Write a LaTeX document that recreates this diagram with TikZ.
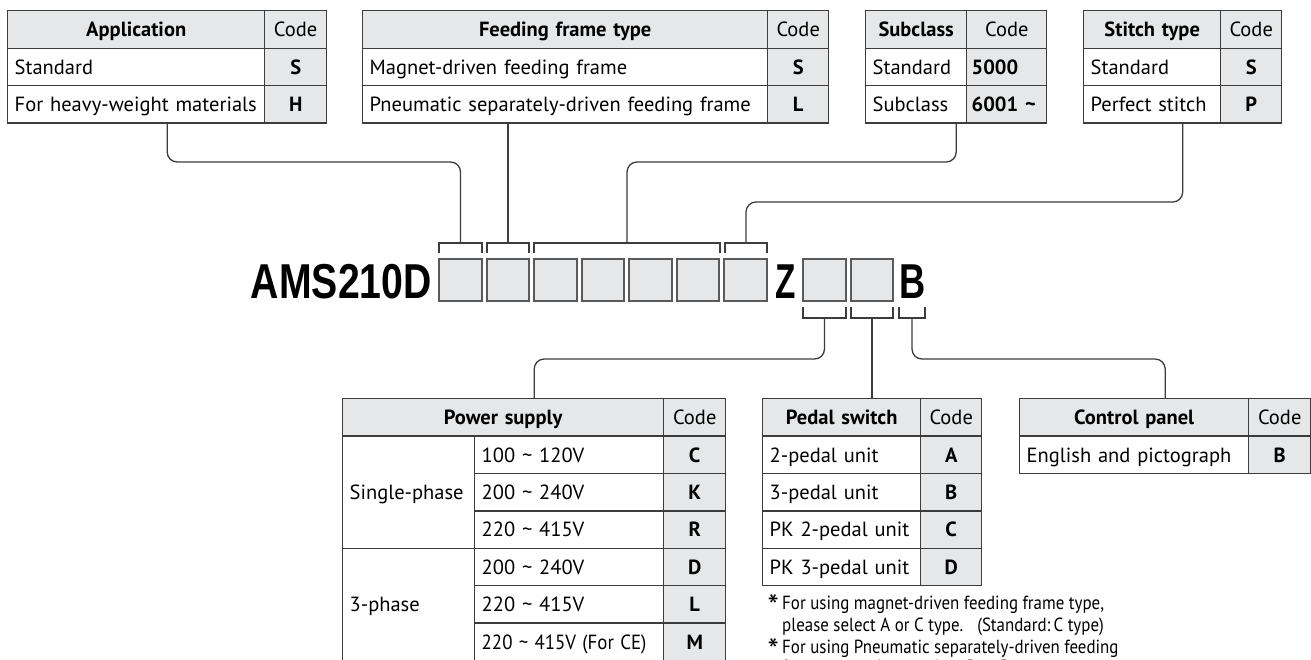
\documentclass[tikz,border=0pt]{standalone}
\usepackage{graphicx}
\usepackage{fontspec}
\setmainfont{PT Sans}
\newfontfamily\titlefont{Liberation Sans}
\newfontfamily\fnfont{PT Sans}[FakeStretch=0.89]
\usetikzlibrary{fit}
\definecolor{bd}{HTML}{3C3C3C}
\definecolor{gf}{HTML}{E6E7E8}
\definecolor{bx}{HTML}{5A5A5A}
\newcommand\tld{\textasciitilde}
\newcommand\tfont{\fontsize{20.5}{24}\selectfont}
\tikzset{
  cellbase/.style={draw=bd, line width=1.4pt, inner ysep=0pt, anchor=north west,
    text height=16pt, text depth=1.6pt, font=\tfont},
  tl/.style={align=left},
  hd/.style={fill=gf, align=center, font=\tfont\bfseries},
  ch/.style={fill=gf, align=center},
  cd/.style={fill=gf, align=center, font=\tfont\bfseries},
  cdl/.style={fill=gf, align=left, font=\tfont\bfseries},
  codebox/.style={draw=bx, fill=gf, line width=1.6pt, minimum width=42.5pt, minimum height=42pt, inner sep=0pt},
  brk/.style={draw=bd, line width=1.4pt},
  conn/.style={draw=bd, line width=1.3pt, rounded corners=10pt},
  ttl/.style={inner sep=0pt, text=black, font=\titlefont\bfseries\fontsize{49}{49}\selectfont},
  fn/.style={inner sep=0pt, anchor=base west, text height=14pt, text depth=4pt, font=\fnfont\fontsize{19}{22}\selectfont},
  star/.style={inner sep=0pt, anchor=base east, text height=20pt, text depth=0pt, font=\fontsize{32}{32}\selectfont}
}
% name, x, y, w, h, style, text
\newcommand\mkcell[7]{%
  \pgfmathsetmacro\cw{#4-14}%
  \node[cellbase,#6, minimum width=#4pt, minimum height=#5pt, text width=\cw pt, inner xsep=7pt] (#1) at (#2,#3) {#7};}
\begin{document}
\begin{tikzpicture}[x=1pt,y=-1pt]
\useasboundingbox (0,0) rectangle (1311,659);
\fill[white] (0,0) rectangle (1311,659);
\clip (0,0) rectangle (1311,659);

% ---------- Application ----------
\mkcell{a0}{7}{10}{257}{37.5}{hd}{Application}
\mkcell{a1}{264}{10}{62}{37.5}{ch}{Code}
\mkcell{a2}{7}{47.5}{257}{37.3}{tl}{Standard}
\mkcell{a3}{264}{47.5}{62}{37.3}{cd}{S}
\mkcell{a4}{7}{84.8}{257}{37.3}{tl}{For heavy-weight materials}
\mkcell{a5}{264}{84.8}{62}{37.3}{cd}{H}
\node[fit=(a0)(a5), inner sep=0pt] (app) {};

% ---------- Feeding frame ----------
\mkcell{f0}{362}{10}{405}{37.5}{hd}{Feeding frame type}
\mkcell{f1}{767}{10}{61}{37.5}{ch}{Code}
\mkcell{f2}{362}{47.5}{405}{37.3}{tl}{Magnet-driven feeding frame}
\mkcell{f3}{767}{47.5}{61}{37.3}{cd}{S}
\mkcell{f4}{362}{84.8}{405}{37.3}{tl}{Pneumatic separately-driven feeding frame}
\mkcell{f5}{767}{84.8}{61}{37.3}{cd}{L}
\node[fit=(f0)(f5), inner sep=0pt] (feed) {};

% ---------- Subclass ----------
\mkcell{s0}{865}{10}{101}{37.5}{hd}{Subclass}
\mkcell{s1}{966}{10}{80}{37.5}{ch}{Code}
\mkcell{s2}{865}{47.5}{101}{37.3}{tl}{Standard}
\mkcell{s3}{966}{47.5}{80}{37.3}{cdl}{\hspace*{-2pt}5000}
\mkcell{s4}{865}{84.8}{101}{37.3}{tl}{Subclass}
\mkcell{s5}{966}{84.8}{80}{37.3}{cdl}{\hspace*{-2pt}6001 \tld}
\node[fit=(s0)(s5), inner sep=0pt] (sub) {};

% ---------- Stitch type ----------
\mkcell{t0}{1083}{10}{137}{37.5}{hd}{Stitch type}
\mkcell{t1}{1220}{10}{61}{37.5}{ch}{Code}
\mkcell{t2}{1083}{47.5}{137}{37.3}{tl}{Standard}
\mkcell{t3}{1220}{47.5}{61}{37.3}{cd}{S}
\mkcell{t4}{1083}{84.8}{137}{37.3}{tl}{Perfect stitch}
\mkcell{t5}{1220}{84.8}{61}{37.3}{cd}{P}
\node[fit=(t0)(t5), inner sep=0pt] (stitch) {};

% ---------- Model code ----------
\node[ttl, anchor=base east] (title) at (432,298) {\scalebox{0.8}[1]{AMS210D}};
\node[codebox] (k1) at (460.5,280) {};
\node[codebox] (k2) at (508,280) {};
\node[codebox] (k3) at (555.5,280) {};
\node[codebox] (k4) at (603,280) {};
\node[codebox] (k5) at (650.5,280) {};
\node[codebox] (k6) at (698,280) {};
\node[codebox] (k7) at (745.5,280) {};
\node[ttl, anchor=base] (zz) at (786,298) {\scalebox{0.68}[1]{Z}};
\node[codebox] (k8) at (824.5,280) {};
\node[codebox] (k9) at (872,280) {};
\node[ttl, anchor=base] (bb) at (913,298) {\scalebox{0.74}[1]{B}};

% brackets top
\draw[brk] (439,253) -- (439,243) -- (482,243) -- (482,253);
\draw[brk] (487,253) -- (487,243) -- (529,243) -- (529,253);
\draw[brk] (534,253) -- (534,243) -- (720,243) -- (720,253);
\draw[brk] (725,253) -- (725,243) -- (767,243) -- (767,253);
% brackets bottom
\draw[brk] (803,307) -- (803,318) -- (846,318) -- (846,307);
\draw[brk] (851,307) -- (851,318) -- (893,318) -- (893,307);
\draw[brk] (899,307) -- (899,318) -- (925,318) -- (925,307);

\coordinate (bA) at (460.5,243);
\coordinate (bB) at (508,243);
\coordinate (bC) at (627,243);
\coordinate (bD) at (746,243);
\coordinate (bE) at (824.5,318);
\coordinate (bF) at (872,318);
\coordinate (bG) at (912,318);
\coordinate (lvA) at (0,162);
\coordinate (lvS) at (0,202);
\coordinate (lvP) at (0,359);

% ---------- Power supply ----------
\mkcell{p0}{342}{398}{321}{37.4}{hd}{Power supply}
\mkcell{p1}{663}{398}{62}{37.4}{ch}{Code}
\mkcell{pg1}{342}{435.4}{132}{112.2}{tl}{Single-phase}
\mkcell{pg2}{342}{547.6}{132}{112.2}{tl}{3-phase}
\mkcell{pv1}{474}{435.4}{189}{37.4}{tl}{100 \tld{} 120V}
\mkcell{pc1}{663}{435.4}{62}{37.4}{cd}{C}
\mkcell{pv2}{474}{472.8}{189}{37.4}{tl}{200 \tld{} 240V}
\mkcell{pc2}{663}{472.8}{62}{37.4}{cd}{K}
\mkcell{pv3}{474}{510.2}{189}{37.4}{tl}{220 \tld{} 415V}
\mkcell{pc3}{663}{510.2}{62}{37.4}{cd}{R}
\mkcell{pv4}{474}{547.6}{189}{37.4}{tl}{200 \tld{} 240V}
\mkcell{pc4}{663}{547.6}{62}{37.4}{cd}{D}
\mkcell{pv5}{474}{585}{189}{37.4}{tl}{220 \tld{} 415V}
\mkcell{pc5}{663}{585}{62}{37.4}{cd}{L}
\mkcell{pv6}{474}{622.4}{189}{37.4}{tl}{\scalebox{0.92}[1]{220 \tld{} 415V (For CE)}}
\mkcell{pc6}{663}{622.4}{62}{37.4}{cd}{M}
\node[fit=(p0)(pc6), inner sep=0pt] (pow) {};

% ---------- Pedal switch ----------
\mkcell{q0}{762}{398}{158}{37.4}{hd}{Pedal switch}
\mkcell{q1}{920}{398}{61}{37.4}{ch}{Code}
\mkcell{q2}{762}{435.4}{158}{37.4}{tl}{2-pedal unit}
\mkcell{q3}{920}{435.4}{61}{37.4}{cd}{A}
\mkcell{q4}{762}{472.8}{158}{37.4}{tl}{3-pedal unit}
\mkcell{q5}{920}{472.8}{61}{37.4}{cd}{B}
\mkcell{q6}{762}{510.2}{158}{37.4}{tl}{PK 2-pedal unit}
\mkcell{q7}{920}{510.2}{61}{37.4}{cd}{C}
\mkcell{q8}{762}{547.6}{158}{37.4}{tl}{PK 3-pedal unit}
\mkcell{q9}{920}{547.6}{61}{37.4}{cd}{D}
\node[fit=(q0)(q9), inner sep=0pt] (ped) {};

% ---------- Control panel ----------
\mkcell{c0}{1019}{398}{229}{37.4}{hd}{Control panel}
\mkcell{c1}{1248}{398}{62}{37.4}{ch}{Code}
\mkcell{c2}{1019}{435.4}{229}{37.4}{tl}{English and pictograph}
\mkcell{c3}{1248}{435.4}{62}{37.4}{cd}{B}
\node[fit=(c0)(c3), inner sep=0pt] (ctl) {};

% ---------- Footnotes ----------
\node[star] (st1) at (779,617) {*};
\node[fn] (fn1a) at (782,609) {For using magnet-driven feeding frame type,};
\node[fn] (fn1b) at (782,631) {please select A or C type.\hspace{14pt}(Standard:\,C type)};
\node[star] (st2) at (779,661) {*};
\node[fn] (fn2a) at (782,653) {For using Pneumatic separately-driven feeding};
\node[fn] (fn2b) at (782,673) {frame type, please select B or D type.};

% ---------- Connectors ----------
\draw[conn] (app.south) -- (app.south |- lvA) -- (bA |- lvA) -- (bA);
\draw[conn] (bB |- feed.south) -- (bB);
\draw[conn] (sub.south) -- (sub.south |- lvA) -- (bC |- lvA) -- (bC);
\draw[conn] (stitch.south) -- (stitch.south |- lvS) -- (bD |- lvS) -- (bD);
\draw[conn] (bE) -- (bE |- lvP) -- (pow.north |- lvP) -- (pow.north);
\draw[conn] (bF) -- (bF |- ped.north);
\draw[conn] (bG) -- (bG |- lvP) -- (ctl.north |- lvP) -- (ctl.north);
\end{tikzpicture}
\end{document}
